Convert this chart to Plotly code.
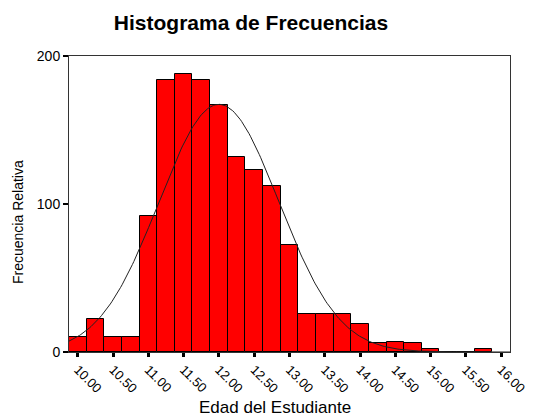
import numpy as np
import plotly.graph_objects as go

# Bin centers (Edad del Estudiante), bin width 0.25
bin_centers = [10.00, 10.25, 10.50, 10.75, 11.00, 11.25, 11.50, 11.75, 12.00, 12.25,
               12.50, 12.75, 13.00, 13.25, 13.50, 13.75, 14.00, 14.25, 14.50, 14.75,
               15.00, 15.25, 15.50, 15.75]
frequencies = [10, 22, 10, 10, 92, 184, 188, 184, 167, 132,
               123, 112, 72, 26, 26, 26, 19, 6, 7, 6,
               2, 0, 0, 2]
bin_width = 0.25

# Fitted normal curve parameters
curve_mean = 12.0
curve_sd = 0.85

tick_vals = [10.0, 10.5, 11.0, 11.5, 12.0, 12.5, 13.0, 13.5, 14.0, 14.5, 15.0, 15.5, 16.0]
tick_text = ["10.00", "10.50", "11.00", "11.50", "12.00", "12.50", "13.00", "13.50",
             "14.00", "14.50", "15.00", "15.50", "16.00"]
x_range = [9.875, 16.125]

n_total = sum(frequencies)
xc = np.linspace(x_range[0], x_range[1], 300)
yc = n_total * bin_width / (curve_sd * np.sqrt(2 * np.pi)) * np.exp(-0.5 * ((xc - curve_mean) / curve_sd) ** 2)

font_family = "Liberation Sans, Arial, sans-serif"

fig = go.Figure()
fig.add_trace(go.Bar(
    x=bin_centers, y=frequencies, width=bin_width,
    marker=dict(color="#ff0000", line=dict(color="#000000", width=1)),
    showlegend=False,
))
fig.add_trace(go.Scatter(
    x=xc, y=yc, mode="lines",
    line=dict(color="#222222", width=1),
    showlegend=False,
))

# page body has an 8px margin: figure is 534x409 placed at (8, 8)
fig.update_layout(
    width=534, height=409,
    margin=dict(l=61, r=32, t=48, b=65),
    paper_bgcolor="white", plot_bgcolor="white",
    bargap=0,
    font=dict(family=font_family, color="#000000"),
    title=dict(text="<b>Histograma de Frecuencias</b>", xref="container", x=243 / 534,
               xanchor="center", yref="container", y=1 - 14.5 / 409, yanchor="middle",
               font=dict(size=21, color="#000000")),
    xaxis=dict(range=x_range, tickmode="array", tickvals=tick_vals, ticktext=tick_text,
               tickangle=45, ticks="outside", ticklen=4, tickwidth=3, tickcolor="#000000",
               showgrid=False, zeroline=False, showline=True, linecolor="#333333",
               linewidth=1, mirror=True, tickfont=dict(size=13, color="#000000")),
    yaxis=dict(range=[0, 200], tickmode="array", tickvals=[0, 100, 200],
               ticks="outside", ticklen=5, tickwidth=2, tickcolor="#000000",
               showgrid=False, zeroline=False, showline=True, linecolor="#333333",
               linewidth=1, mirror=True, tickfont=dict(size=14, color="#000000")),
    annotations=[
        dict(text="Edad del Estudiante", xref="paper", yref="paper",
             x=(275 - 69) / 441, y=-(407 - 352) / 296, xanchor="center", yanchor="middle",
             showarrow=False, font=dict(size=17, color="#000000")),
        dict(text="Frecuencia Relativa", xref="paper", yref="paper",
             x=-(69 - 18) / 441, y=(352 - 222) / 296, xanchor="center", yanchor="middle",
             textangle=-90, showarrow=False, font=dict(size=14, color="#000000")),
    ],
)

fig.write_html("out.html")
